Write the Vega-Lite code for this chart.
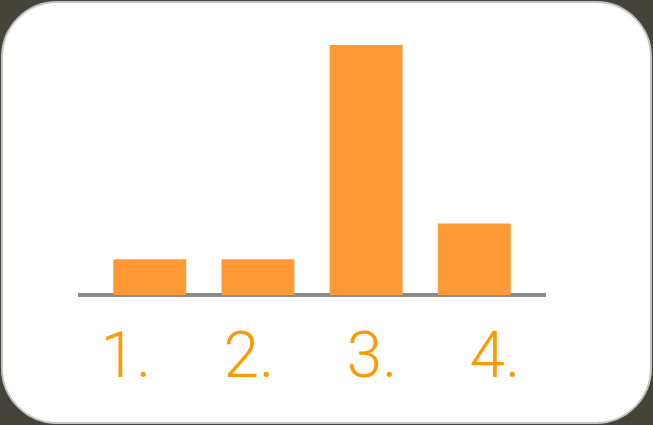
{
  "$schema": "https://vega.github.io/schema/vega-lite/v6.json",
  "width": 649,
  "height": 421,
  "padding": 2,
  "autosize": "none",
  "background": "#45443b",
  "config": {
    "view": {"fill": "white", "cornerRadius": 55, "stroke": "#c4c4c4", "strokeWidth": 2}
  },
  "data": {"values": [
    {"label": "1.", "value": 1},
    {"label": "2.", "value": 1},
    {"label": "3.", "value": 7},
    {"label": "4.", "value": 2}
  ]},
  "layer": [
    {
      "mark": {"type": "rule", "stroke": "#8a8a8a", "strokeWidth": 4},
      "encoding": {
        "x": {"datum": "1.", "type": "nominal", "bandPosition": -0.483, "scale": {"type": "band", "domain": ["1.", "2.", "3.", "4."], "range": [76, 544], "paddingInner": 0.326, "paddingOuter": 0.326}, "axis": null},
        "x2": {"datum": "4.", "bandPosition": 1.483},
        "y": {"datum": 0, "type": "quantitative", "scale": {"domain": [0, 7], "range": [293, 43]}, "axis": null}
      }
    },
    {
      "mark": {"type": "bar", "color": "#ff9933"},
      "encoding": {
        "x": {"field": "label", "type": "nominal", "scale": {"type": "band", "domain": ["1.", "2.", "3.", "4."], "range": [76, 544], "paddingInner": 0.326, "paddingOuter": 0.326}, "axis": null},
        "y": {"field": "value", "type": "quantitative", "axis": null}
      }
    },
    {
      "mark": {"type": "text", "color": "#ff9900", "font": "Roboto", "fontWeight": 300, "fontSize": 64, "baseline": "alphabetic", "dy": 82},
      "encoding": {
        "x": {"field": "label", "type": "nominal", "scale": {"type": "point", "range": [124, 493], "padding": 0}, "axis": null},
        "y": {"datum": 0, "type": "quantitative", "axis": null},
        "text": {"field": "label"}
      }
    }
  ],
  "resolve": {"scale": {"x": "independent"}}
}
